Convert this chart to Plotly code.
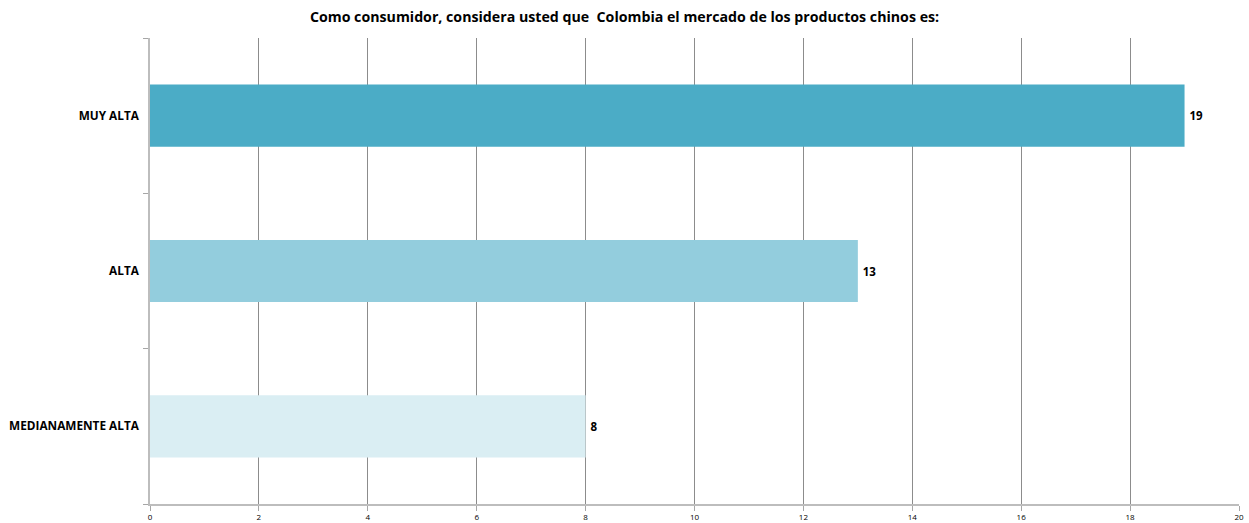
import plotly.graph_objects as go

# Respuestas de la encuesta
categorias = ["MUY ALTA", "ALTA", "MEDIANAMENTE ALTA"]
valores = [19, 13, 8]
colores = ["#4BACC6", "#93CDDD", "#DAEEF3"]
ticks_x = [0, 2, 4, 6, 8, 10, 12, 14, 16, 18, 20]

fig = go.Figure(
    go.Bar(
        x=valores,
        y=categorias,
        orientation="h",
        marker=dict(color=colores, line=dict(width=0)),
        width=0.4,
        text=[f"\u2009<b>{v}</b>" for v in valores],
        textposition="outside",
        textfont=dict(family="Open Sans, Arial", size=11.5, color="#000000"),
        cliponaxis=False,
    )
)

fig.update_layout(
    width=1249,
    height=523,
    margin=dict(l=150, r=10, t=38, b=19, autoexpand=False),
    paper_bgcolor="white",
    plot_bgcolor="white",
    showlegend=False,
    title=dict(
        text="<b>Como consumidor, considera usted que  Colombia el mercado de los productos chinos es:</b>",
        x=0.5,
        xanchor="center",
        y=0.967,
        yanchor="middle",
        font=dict(family="Open Sans, Arial", size=14.2, color="#000000"),
    ),
    xaxis=dict(
        range=[0, 20],
        tickvals=ticks_x,
        automargin=False,
        showgrid=True,
        gridcolor="#8C8C8C",
        gridwidth=1,
        zeroline=False,
        showline=True,
        linecolor="#BDBDBD",
        linewidth=1.5,
        ticks="outside",
        ticklen=5,
        tickcolor="#A6A6A6",
        tickfont=dict(family="Open Sans, Arial", size=8, color="#000000"),
    ),
    yaxis=dict(
        categoryorder="array",
        categoryarray=categorias[::-1],
        automargin=False,
        showgrid=False,
        showline=True,
        linecolor="#BDBDBD",
        linewidth=1.5,
        ticks="outside",
        tickson="boundaries",
        ticklen=5,
        tickcolor="#A6A6A6",
        ticklabelstandoff=7,
        tickfont=dict(family="Open Sans, Arial", size=11.8, color="#000000"),
        tickprefix="<b>",
        ticksuffix="</b>",
    ),
)

fig.write_html("out.html")
